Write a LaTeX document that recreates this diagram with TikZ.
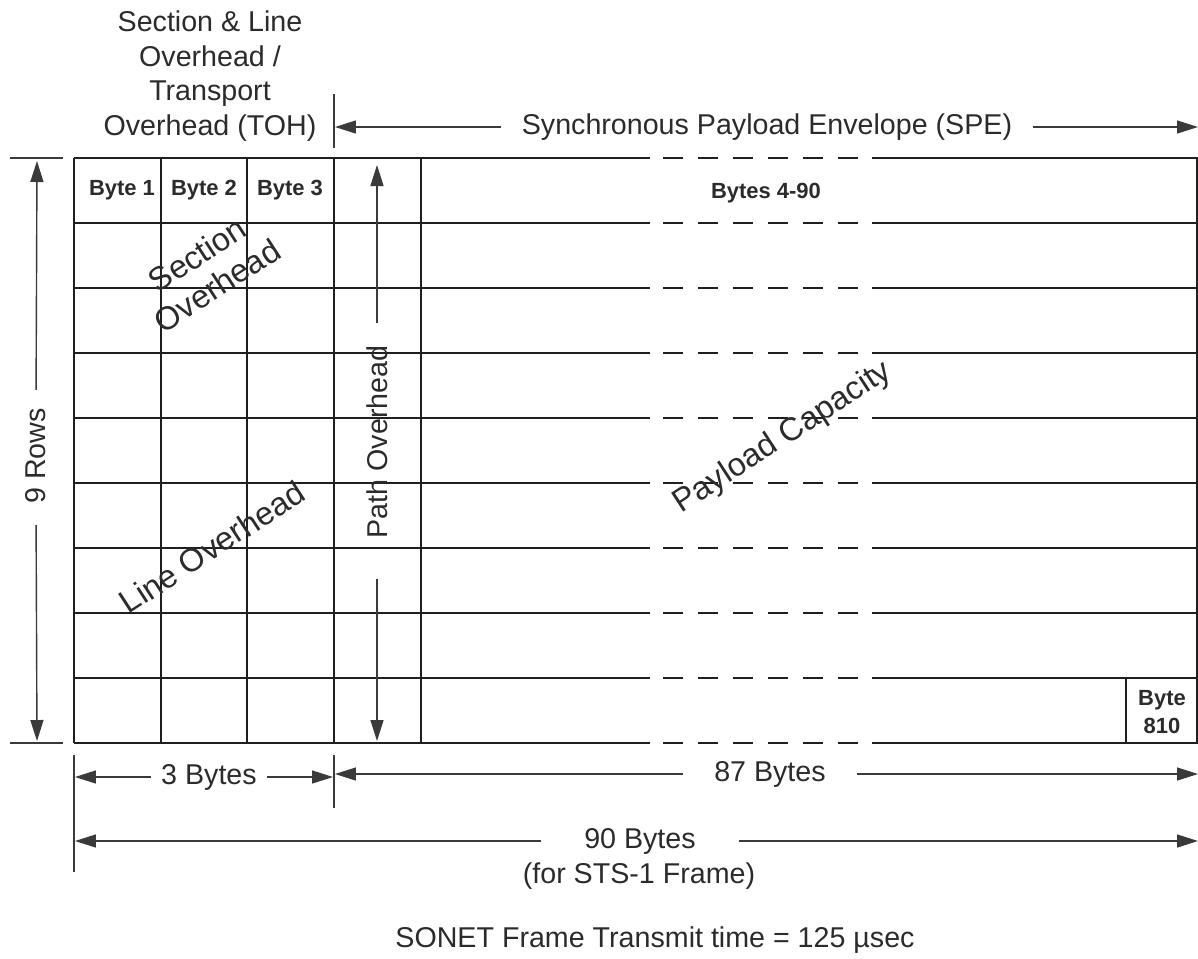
\documentclass[tikz,border=0pt]{standalone}
\usepackage{fontspec}
\setmainfont{Liberation Sans}
\usepackage{tikz}
\usetikzlibrary{arrows.meta, positioning}
\definecolor{gridline} {HTML}{1F1F1F}
\definecolor{dimline}  {HTML}{3A3A3A}
\definecolor{labeltext}{HTML}{2B2B2B}

\begin{document}
\begin{tikzpicture}[
    x=0.02cm, y=-0.02cm,
    cell/.style={line width=1.2pt, color=gridline},
    gapline/.style={cell, dash pattern=on 0.4cm off 0.3cm},
    lbl/.style={font=\fontsize{16.3}{19.6}\selectfont, text=labeltext,
                align=center},
    bytelbl/.style={font=\fontsize{12.5}{16.4}\selectfont\bfseries,
                text=labeltext, align=center},
    slant/.style={font=\fontsize{18.5}{21}\selectfont, text=labeltext,
                rotate=33, align=center},
    dim/.style={-{Triangle[length=0.42cm, width=0.26cm]}, line width=0.8pt,
                color=dimline},
    tick/.style={line width=0.8pt, color=dimline},
  ]
    \useasboundingbox (0,0) rectangle (1198,958);

    \foreach \r in {0,...,9} {
      \draw[cell]    (74,158+65*\r)  -- (650,158+65*\r);
      \draw[gapline] (663,158+65*\r) -- (858,158+65*\r);
      \draw[cell]    (872,158+65*\r) -- (1198,158+65*\r);
    }
    \foreach \c in {74,161,247,334,421,1197}
      \draw[cell] (\c,158) -- (\c,743);
    \draw[cell] (1126,678) -- (1126,743);

    \node[lbl] (toh) at (210,76)
      {Section \& Line\\Overhead /\\Transport\\Overhead (TOH)};

    \node[lbl, inner xsep=0.4cm] (spe) at (767,127)
      {Synchronous Payload Envelope (SPE)};
    \coordinate (speL) at (335,127);
    \coordinate (speR) at (1198,127);
    \draw[tick] (334,94) -- (334,148);
    \draw[dim] (spe) -- (speL);
    \draw[dim] (spe) -- (speR);

    \node[bytelbl] (b1) at (122,190) {Byte 1};
    \node[bytelbl] (b2) at (204,190) {Byte 2};
    \node[bytelbl] (b3) at (290,190) {Byte 3};
    \node[bytelbl] (b4) at (766,193) {Bytes 4-90};
    \node[bytelbl] (b810) at (1162,712) {Byte\\810};

    \node[slant] (secoh) at (207,270) {Section\\Overhead};
    \node[slant] (lineoh) at (212,547) {Line Overhead};
    \node[slant] (payload) at (783,438) {Payload Capacity};

    \node[lbl, rotate=90, inner xsep=0pt] (rows) at (36,456) {9 Rows};
    \coordinate (rowsT) at (37,161);
    \coordinate (rowsB) at (37,741);
    \draw[tick] (10,158) -- (63,158);
    \draw[tick] (10,743) -- (63,743);
    \draw[dim, shorten <=0.36cm] (rows.east) -- (rowsT);
    \draw[dim, shorten <=0.42cm] (rows.west) -- (rowsB);

    \node[lbl, rotate=90, inner xsep=0pt] (pathoh) at (377,442) {Path Overhead};
    \coordinate (pathT) at (377,165);
    \coordinate (pathB) at (377,741);
    \draw[dim, shorten <=0.44cm] (pathoh.east) -- (pathT);
    \draw[dim, shorten <=0.8cm] (pathoh.west) -- (pathB);

    \draw[tick] (74,755) -- (74,872);
    \draw[tick] (334,755) -- (334,808);

    \node[lbl, inner xsep=0.2cm] (three) at (209,777) {3 Bytes};
    \coordinate (threeL) at (75,777);
    \coordinate (threeR) at (333,777);
    \draw[dim] (three) -- (threeL);
    \draw[dim] (three) -- (threeR);

    \node[lbl, inner xsep=0.62cm] (eighty) at (770,774) {87 Bytes};
    \coordinate (eightyL) at (335,774);
    \coordinate (eightyR) at (1198,774);
    \draw[dim] (eighty) -- (eightyL);
    \draw[dim] (eighty) -- (eightyR);

    \node[lbl, inner xsep=0.85cm] (ninety) at (640,841) {90 Bytes};
    \node[lbl] (sts) at (639,876) {(for STS-1 Frame)};
    \coordinate (ninetyL) at (75,841);
    \coordinate (ninetyR) at (1198,841);
    \draw[dim] (ninety) -- (ninetyL);
    \draw[dim] (ninety) -- (ninetyR);

    \node[lbl] (sonet) at (655,940) {SONET Frame Transmit time = 125 µsec};
  \end{tikzpicture}
\end{document}
